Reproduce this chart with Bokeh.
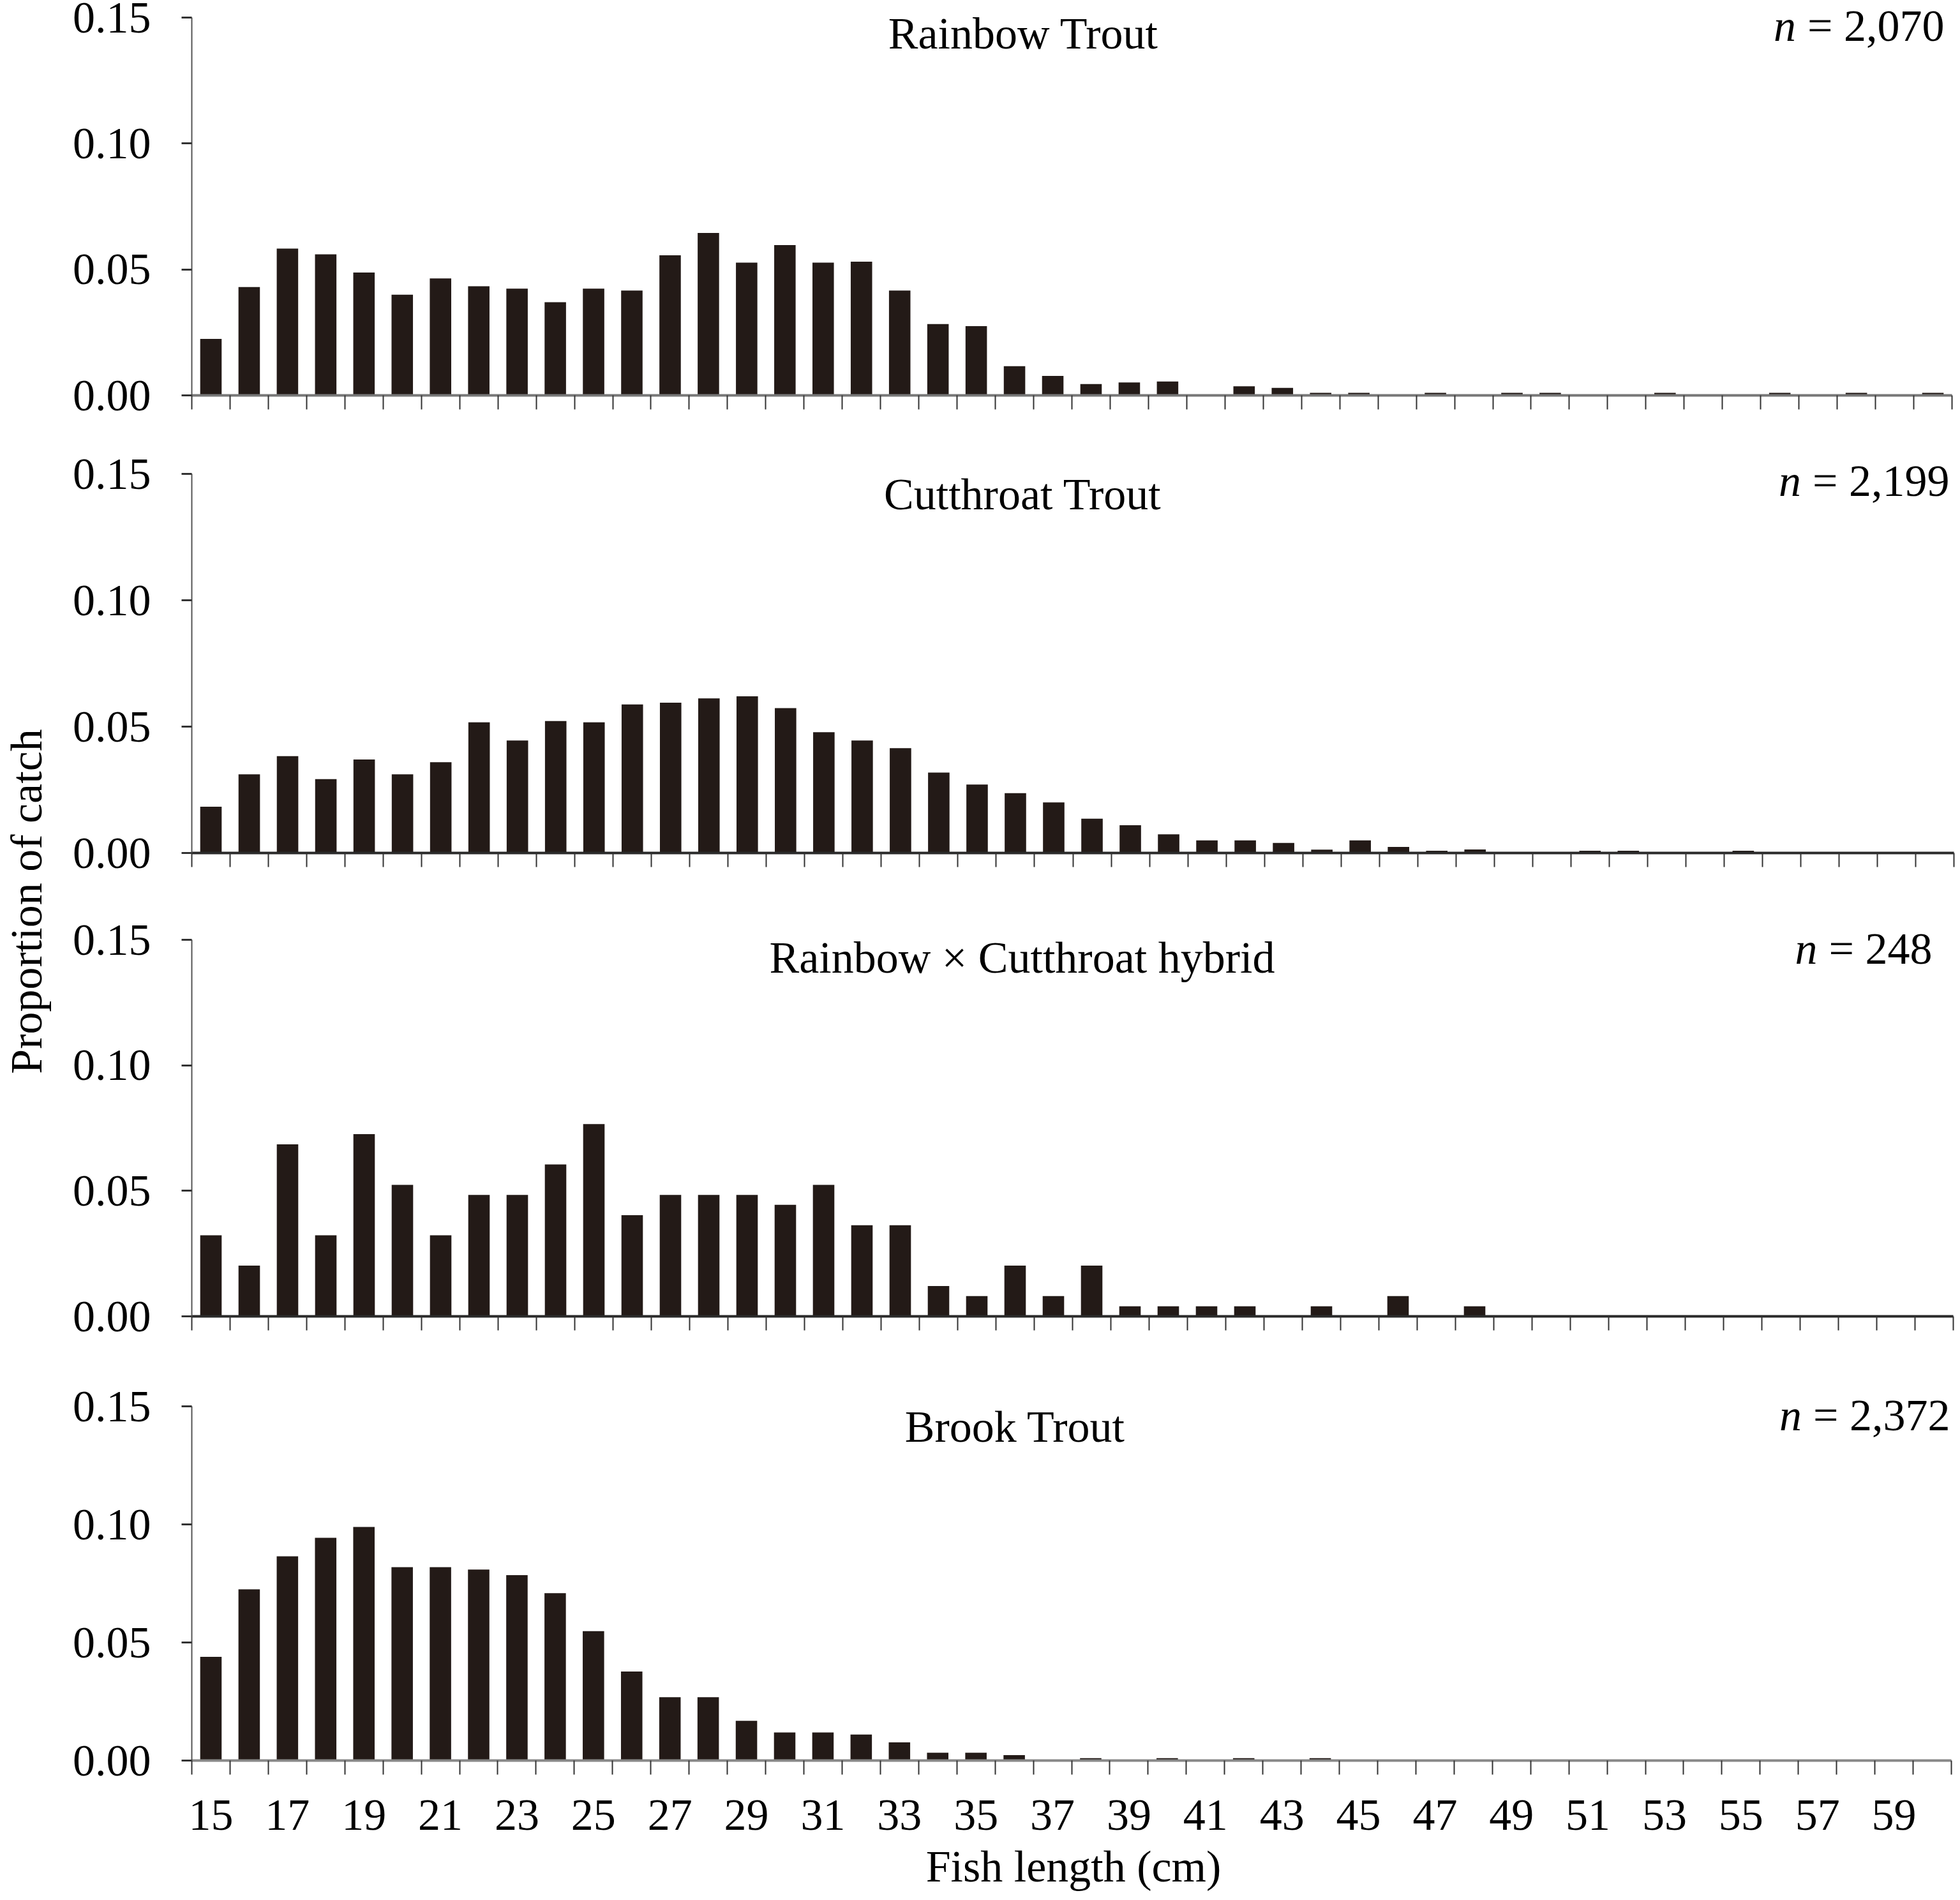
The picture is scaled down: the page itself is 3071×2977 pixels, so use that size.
from math import pi
from bokeh.plotting import figure
from bokeh.models import Range1d, FixedTicker, Label, PrintfTickFormatter, ColumnDataSource
from bokeh.layouts import row, column
from bokeh.embed import file_html
from bokeh.resources import INLINE

# ---------------- data ----------------
lengths = list(range(15, 61))

rainbow = [0.0224, 0.0430, 0.0583, 0.0560, 0.0488, 0.0400, 0.0464, 0.0433, 0.0424, 0.0370,
           0.0424, 0.0416, 0.0556, 0.0645, 0.0527, 0.0597, 0.0527, 0.0531, 0.0416, 0.0283,
           0.0275, 0.0116, 0.0077, 0.0045, 0.0051, 0.0055, 0.0, 0.0036, 0.0030, 0.0010,
           0.0010, 0.0, 0.0010, 0.0, 0.0010, 0.0010, 0.0, 0.0, 0.0010, 0.0,
           0.0, 0.0010, 0.0, 0.0010, 0.0, 0.0010]

cutthroat = [0.0183, 0.0311, 0.0383, 0.0292, 0.0370, 0.0311, 0.0359, 0.0517, 0.0445, 0.0522,
             0.0517, 0.0588, 0.0595, 0.0612, 0.0620, 0.0573, 0.0478, 0.0445, 0.0415, 0.0318,
             0.0271, 0.0237, 0.0200, 0.0136, 0.0110, 0.0074, 0.0050, 0.0050, 0.0040, 0.0013,
             0.0050, 0.0024, 0.0009, 0.0014, 0.0, 0.0, 0.0009, 0.0009, 0.0, 0.0,
             0.0009, 0.0, 0.0, 0.0, 0.0, 0.0]

hybrid = [0.0323, 0.0202, 0.0685, 0.0323, 0.0726, 0.0524, 0.0323, 0.0484, 0.0484, 0.0605,
          0.0766, 0.0403, 0.0484, 0.0484, 0.0484, 0.0444, 0.0524, 0.0363, 0.0363, 0.0121,
          0.0081, 0.0202, 0.0081, 0.0202, 0.0040, 0.0040, 0.0040, 0.0040, 0.0, 0.0040,
          0.0, 0.0081, 0.0, 0.0040, 0.0, 0.0, 0.0, 0.0, 0.0, 0.0,
          0.0, 0.0, 0.0, 0.0, 0.0, 0.0]

brook = [0.0439, 0.0725, 0.0865, 0.0943, 0.0989, 0.0819, 0.0819, 0.0809, 0.0785, 0.0709,
         0.0548, 0.0377, 0.0268, 0.0268, 0.0168, 0.0119, 0.0119, 0.0110, 0.0077, 0.0033,
         0.0033, 0.0023, 0.0, 0.0010, 0.0, 0.0010, 0.0, 0.0010, 0.0, 0.0010,
         0.0, 0.0, 0.0, 0.0, 0.0, 0.0, 0.0, 0.0, 0.0, 0.0,
         0.0, 0.0, 0.0, 0.0, 0.0, 0.0]

species = ["Rainbow Trout", "Cutthroat Trout", "Rainbow \u00d7 Cutthroat hybrid", "Brook Trout"]
sample_sizes = ["2,070", "2,199", "248", "2,372"]
x_tick_labels = list(range(15, 60, 2))
y_ticks = [0.0, 0.05, 0.10, 0.15]

# ---------------- layout ----------------
FONT = "Liberation Serif"
FS = 70
BAR = "#231a17"
LAB_W = 88
PANEL_W = 2975
XMIN, XMAX = 14.5, 60.5
YMAX = 0.15

layout_spec = [
    dict(fl=298, ft=27, fw=2758, fh=592, top=0, bot=680, tx=1601, ty=52, nx=3044, ny=40, ax="#777777"),
    dict(fl=286, ft=742, fw=2761, fh=594, top=680, bot=1410, tx=1588, ty=774, nx=3040, ny=753, ax="#2a2a2a"),
    dict(fl=291, ft=1472, fw=2760, fh=590, top=1410, bot=2140, tx=1592, ty=1500, nx=3018, ny=1486, ax="#2a2a2a"),
    dict(fl=300, ft=2203, fw=2757, fh=555, top=2140, bot=2969, tx=1590, ty=2235, nx=3055, ny=2217, ax="#888888"),
]

bounds = [b + 0.5 for b in range(14, 61)]

char_w = {"=": 0.564, " ": 0.25, ",": 0.25}


def text_width(s):
    return sum(char_w.get(c, 0.5) for c in s) * FS


series = [rainbow, cutthroat, hybrid, brook]
figs = []
for i, (vals, name, nstr, L) in enumerate(zip(series, species, sample_sizes, layout_spec)):
    last = i == len(series) - 1
    fb = L["ft"] + L["fh"]
    ml = L["fl"] - LAB_W
    fw_full = PANEL_W - ml                 # frame runs to the right edge of the panel
    fh_full = fb - L["top"]                # frame runs to the top edge of the panel
    x_end = XMIN + fw_full / L["fw"] * (XMAX - XMIN)
    y_end = YMAX * fh_full / L["fh"]
    p = figure(frame_width=fw_full, frame_height=fh_full,
               x_range=Range1d(XMIN, x_end), y_range=Range1d(0, y_end),
               output_backend="svg", toolbar_location=None,
               min_border_left=ml, min_border_right=0,
               min_border_top=0, min_border_bottom=L["bot"] - fb,
               outline_line_color=None, background_fill_color="white",
               border_fill_color="white")
    p.grid.visible = False
    src = ColumnDataSource(dict(x=lengths, top=vals))
    p.vbar(x="x", top="top", bottom=0, width=0.56, source=src,
           fill_color=BAR, line_color=None)

    xa = p.xaxis[0]
    xa.bounds = (XMIN, XMAX)
    xa.ticker = FixedTicker(ticks=x_tick_labels if last else [], minor_ticks=bounds)
    xa.major_tick_out = 0
    xa.major_tick_in = 0
    xa.minor_tick_out = 22
    xa.minor_tick_in = 0
    xa.minor_tick_line_color = "#333333"
    xa.minor_tick_line_width = 2
    xa.axis_line_color = L["ax"]
    xa.axis_line_width = 4
    xa.major_label_text_font = FONT
    xa.major_label_text_font_size = f"{FS}px"
    xa.major_label_text_color = "black"
    xa.major_label_standoff = 40
    if last:
        xa.axis_label = "Fish length (cm)"
        xa.axis_label_text_font = FONT
        xa.axis_label_text_font_size = f"{FS}px"
        xa.axis_label_text_font_style = "normal"
        xa.axis_label_text_color = "black"
        xa.axis_label_standoff = 16

    ya = p.yaxis[0]
    ya.bounds = (0, YMAX)
    ya.ticker = FixedTicker(ticks=y_ticks, minor_ticks=[])
    ya.formatter = PrintfTickFormatter(format="%.2f")
    ya.major_tick_out = 16
    ya.major_tick_in = 0
    ya.major_tick_line_width = 3
    ya.major_tick_line_color = "#333333"
    ya.minor_tick_out = 0
    ya.minor_tick_in = 0
    ya.axis_line_color = "#555555"
    ya.axis_line_width = 2
    ya.major_label_text_font = FONT
    ya.major_label_text_font_size = f"{FS}px"
    ya.major_label_text_color = "black"
    ya.major_label_standoff = 48

    def dx(ax):
        return XMIN + (ax - L["fl"]) / L["fw"] * (XMAX - XMIN)

    def dy(ay):
        return YMAX * (fb - ay) / L["fh"]

    p.add_layout(Label(x=dx(L["tx"]), y=dy(L["ty"]), text=name, text_align="center",
                       text_baseline="middle", text_font=FONT, text_font_size=f"{FS}px",
                       text_color="black"))
    rest = "= " + nstr
    p.add_layout(Label(x=dx(L["nx"]), y=dy(L["ny"]), text=rest, text_align="right",
                       text_baseline="middle", text_font=FONT, text_font_size=f"{FS}px",
                       text_color="black"))
    p.add_layout(Label(x=dx(L["nx"]), y=dy(L["ny"]), text="n", text_align="right",
                       x_offset=-(text_width(rest) + 18),
                       text_baseline="middle", text_font=FONT, text_font_size=f"{FS}px",
                       text_font_style="italic", text_color="black"))
    figs.append(p)

TOTAL_H = 2969
lf = figure(width=LAB_W, height=TOTAL_H, x_range=Range1d(0, LAB_W), y_range=Range1d(0, TOTAL_H),
            output_backend="svg", toolbar_location=None, min_border=0,
            x_axis_location=None, y_axis_location=None, outline_line_color=None,
            border_fill_color="white", background_fill_color="white")
lf.grid.visible = False
lf.add_layout(Label(x=41, y=TOTAL_H - 1412, text="Proportion of catch", angle=pi / 2,
                    text_align="center", text_baseline="middle", text_font=FONT,
                    text_font_size=f"{FS}px", text_color="black"))

layout = row(lf, column(*figs, spacing=0), spacing=0)
open("out.html", "w").write(file_html(layout, INLINE))
